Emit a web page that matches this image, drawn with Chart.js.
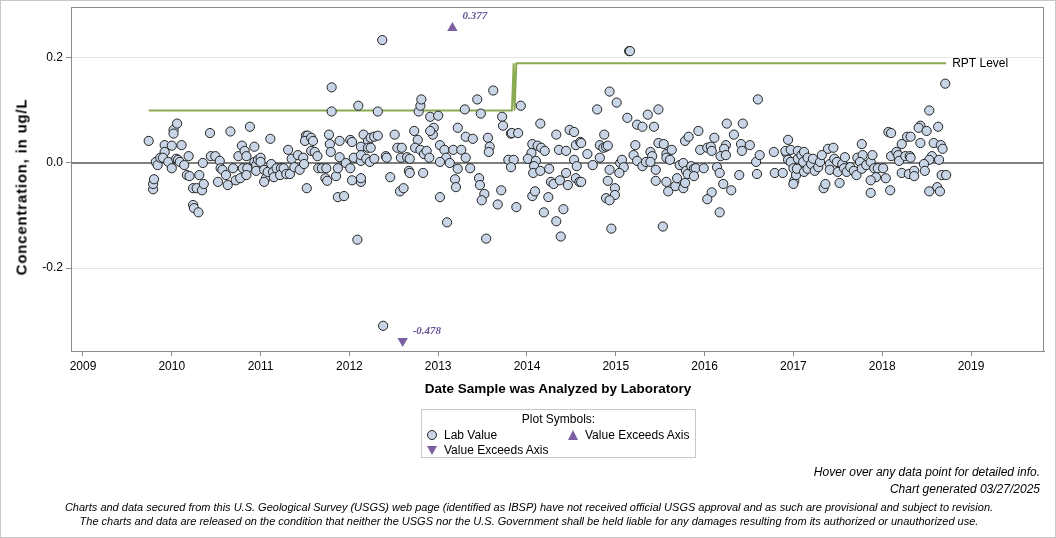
<!DOCTYPE html>
<html>
<head>
<meta charset="utf-8">
<script src="https://cdn.jsdelivr.net/npm/chart.js@4.4.1/dist/chart.umd.min.js"></script>
<style>
  body { margin: 0; background: #fff; font-family: "Liberation Sans", Arial, sans-serif; color: #000; }
  #wrap { position: relative; width: 1054px; height: 536px; border: 1px solid #c8c8c8; overflow: hidden; }
  #chart { position: absolute; left: 0; top: 0; }
  .ytitle { position: absolute; left: 20px; top: 186px; transform: translate(-50%, -50%) rotate(-90deg);
    font-weight: bold; font-size: 15px; letter-spacing: 0.8px; white-space: nowrap; }
  .xtitle { position: absolute; left: 557px; top: 387px; transform: translate(-50%, -50%);
    font-weight: bold; font-size: 13.5px; white-space: nowrap; }
  .legend { position: absolute; left: 420px; top: 408px; width: 275px; height: 49px; border: 1px solid #c8c8c8;
    font-size: 12px; box-sizing: border-box; }
  .legend .ttl { position: absolute; left: 0; right: 0; top: 2px; text-align: center; }
  .legend .item { position: absolute; white-space: nowrap; display: flex; align-items: center; }
  .legend svg { margin-right: 6px; }
  .note { position: absolute; right: 15px; font-style: italic; font-size: 12px; white-space: nowrap; }
  .disc { position: absolute; left: 0; width: 1056px; text-align: center; font-style: italic; font-size: 11px; white-space: nowrap; }
</style>
</head>
<body>
<div id="wrap">
  <canvas id="chart" width="1056" height="538"></canvas>
  <div class="ytitle">Concentration, in ug/L</div>
  <div class="xtitle">Date Sample was Analyzed by Laboratory</div>
  <div class="legend">
    <div class="ttl">Plot Symbols:</div>
    <div class="item" style="left:4px; top:18px;">
      <svg width="12" height="12"><circle cx="6" cy="6" r="4.5" fill="#c8d5e6" stroke="#222" stroke-width="1"/></svg>Lab Value</div>
    <div class="item" style="left:145px; top:18px;">
      <svg width="12" height="12"><polygon points="6,1 11,11 1,11" fill="#7b5fa3"/></svg>Value Exceeds Axis</div>
    <div class="item" style="left:4px; top:33px;">
      <svg width="12" height="12"><polygon points="1,2 11,2 6,11" fill="#7b5fa3"/></svg>Value Exceeds Axis</div>
  </div>
  <div class="note" style="top:464px;">Hover over any data point for detailed info.</div>
  <div class="note" style="top:481px;">Chart generated 03/27/2025</div>
  <div class="disc" style="top:500px;">Charts and data secured from this U.S. Geological Survey (USGS) web page (identified as IBSP) have not received official USGS approval and as such are provisional and subject to revision.</div>
  <div class="disc" style="top:514px;">The charts and data are released on the condition that neither the USGS nor the U.S. Government shall be held liable for any damages resulting from its authorized or unauthorized use.</div>
</div>
<script>
// sample dates as decimal years, lab values in ug/L
const sampleDates = [
  2009.74, 2009.79, 2009.79, 2009.80, 2009.82, 2009.84, 2009.87, 2009.92, 2009.92, 2009.90,
  2009.96, 2010.00, 2010.02, 2010.02, 2010.06, 2010.00, 2010.05, 2010.07, 2010.09, 2010.14,
  2010.11, 2010.19, 2010.17, 2010.20, 2010.31, 2010.24, 2010.28, 2010.34, 2010.36, 2010.24,
  2010.25, 2010.30, 2010.35, 2010.43, 2010.44, 2010.49, 2010.54, 2010.55, 2010.57, 2010.61,
  2010.52, 2010.63, 2010.66, 2010.69, 2010.72, 2010.77, 2010.75, 2010.79, 2010.82, 2010.84,
  2010.80, 2010.85, 2010.84, 2010.88,
  2010.93, 2010.93, 2010.95, 2010.95, 2010.97, 2011.00, 2011.00, 2011.04, 2011.06, 2011.04,
  2011.08, 2011.12, 2011.11, 2011.14, 2011.15, 2011.18, 2011.23, 2011.22, 2011.26, 2011.29,
  2011.33, 2011.31, 2011.35, 2011.38, 2011.42, 2011.44, 2011.48, 2011.49, 2011.51, 2011.53,
  2011.50, 2011.57, 2011.59, 2011.57, 2011.61, 2011.64, 2011.52, 2011.65, 2011.69, 2011.74,
  2011.73, 2011.75, 2011.77, 2011.78, 2011.79, 2011.80, 2011.80, 2011.85, 2011.87, 2011.87,
  2011.94, 2011.89, 2011.89, 2011.96, 2012.01, 2012.01, 2012.03, 2012.05, 2012.03, 2012.10,
  2012.09, 2012.13, 2012.13, 2012.13,
  2012.37, 2012.32, 2012.16, 2012.21, 2012.24, 2012.21, 2012.24, 2012.28, 2012.32, 2012.13,
  2012.19, 2012.23, 2012.28, 2012.13, 2012.41, 2012.42, 2012.46, 2012.51, 2012.54, 2012.59,
  2012.57, 2012.61, 2012.58, 2012.65, 2012.68, 2012.67, 2012.68, 2012.73, 2012.77, 2012.74,
  2012.80, 2012.83, 2012.84, 2012.87, 2012.90, 2012.78, 2012.80, 2012.81, 2012.91, 2013.00,
  2012.95, 2012.94, 2012.91, 2013.02, 2013.07, 2013.09, 2013.02, 2013.13, 2013.17, 2013.26,
  2013.22, 2013.02, 2013.19, 2013.20, 2013.10, 2013.22, 2013.30, 2013.31, 2013.31, 2013.36,
  2012.38,
  2013.62, 2013.44, 2013.48, 2013.39, 2013.56, 2013.58, 2013.57, 2013.46, 2013.47, 2013.52,
  2013.49, 2013.54, 2013.67, 2013.71, 2013.72, 2013.73, 2013.79, 2013.85, 2013.82, 2013.82,
  2013.83, 2013.90, 2013.88, 2013.93, 2014.06, 2014.05, 2014.01, 2014.10, 2014.08, 2014.07,
  2014.15, 2014.12, 2014.16, 2014.20, 2014.15, 2014.06, 2014.09, 2014.25, 2014.24, 2014.19,
  2014.27, 2014.30, 2014.37, 2014.44, 2014.46, 2014.33, 2014.33, 2014.38, 2014.41, 2014.36,
  2014.44, 2014.48, 2014.53, 2014.55, 2014.60, 2014.53, 2014.56, 2014.55, 2014.59,
  2015.15, 2015.16, 2014.93, 2014.79, 2015.01, 2015.13, 2015.24, 2015.30, 2015.36, 2015.48,
  2015.43, 2014.61, 2014.68, 2014.74, 2014.82, 2014.86, 2014.87, 2014.89, 2014.91, 2014.82,
  2014.93, 2014.91, 2014.99, 2014.99, 2014.89, 2014.93, 2014.95, 2015.05, 2015.07, 2015.09,
  2015.04, 2015.22, 2015.20, 2015.24, 2015.30, 2015.34, 2015.39, 2015.41, 2015.39, 2015.45,
  2015.45, 2015.48, 2015.54, 2015.57, 2015.57, 2015.63, 2015.61, 2015.53, 2015.57, 2015.59,
  2015.67, 2015.69, 2015.76, 2015.78, 2015.72, 2015.76, 2015.79, 2015.81, 2015.78, 2015.82,
  2014.61,
  2015.93, 2015.85, 2015.88, 2015.90, 2015.88, 2015.95, 2015.99, 2016.03, 2016.07, 2016.08,
  2016.11, 2016.14, 2016.17, 2016.21, 2016.08, 2016.03, 2016.17, 2016.30, 2016.25, 2016.33,
  2016.24, 2016.22, 2016.18, 2016.24, 2016.43, 2016.41, 2016.42, 2016.51, 2016.39, 2016.60,
  2016.58, 2016.62, 2016.59, 2016.78, 2016.79, 2016.88, 2016.94, 2016.92, 2016.91, 2016.97,
  2016.94, 2016.97, 2017.00, 2017.01, 2017.00, 2017.03, 2017.04, 2017.05, 2017.05,
  2017.09, 2017.11, 2017.12, 2017.12, 2017.16, 2017.16, 2017.20, 2017.22, 2017.24, 2017.28,
  2017.30, 2017.32, 2017.34, 2017.36, 2017.39, 2017.45, 2017.41, 2017.41, 2017.46, 2017.49,
  2017.50, 2017.52, 2017.55, 2017.58, 2017.57, 2017.60, 2017.64, 2017.68, 2017.71, 2017.72,
  2017.77, 2017.78, 2017.75, 2017.77, 2017.82, 2017.87, 2017.89, 2017.91, 2017.93, 2017.87,
  2017.87, 2017.95, 2018.01, 2018.04, 2018.09, 2018.07, 2018.10, 2018.10, 2018.16, 2018.18,
  2018.19, 2018.22, 2018.28, 2018.26, 2018.31, 2018.22, 2018.30,
  2018.71, 2018.53, 2018.43, 2018.41, 2018.50, 2018.63, 2018.32, 2018.43, 2018.58, 2018.66,
  2018.68, 2018.32, 2018.56, 2018.53, 2018.64, 2018.47, 2018.36, 2018.36, 2018.48, 2018.67,
  2018.72, 2018.53, 2018.62, 2018.65
];
const labValues = [
  0.042, -0.050, -0.040, -0.031, 0.002, -0.004, 0.010, 0.034, 0.021, 0.010,
  0.002, 0.033, 0.063, 0.056, 0.075, -0.010, 0.008, 0.006, 0.002, -0.004,
  0.034, 0.013, -0.023, -0.025, -0.023, -0.048, -0.048, -0.052, -0.040, -0.080,
  -0.086, -0.094, 0.000, 0.057, 0.013, 0.013, 0.004, -0.010, -0.013, -0.023,
  -0.036, -0.042, 0.060, -0.010, -0.033, -0.029, 0.013, 0.033, 0.023, 0.013,
  -0.010, -0.010, -0.023, 0.069,
  0.031, 0.002, -0.004, -0.015, 0.006, 0.010, 0.002, -0.013, -0.029, -0.036,
  -0.017, -0.002, 0.046, -0.017, -0.027, -0.010, -0.010, -0.023, -0.010, -0.021,
  -0.021, 0.025, 0.008, -0.008, 0.015, -0.013, 0.010, -0.002, 0.052, 0.052,
  0.042, 0.048, 0.042, 0.023, 0.021, 0.013, -0.048, -0.010, -0.010, -0.010,
  -0.029, -0.034, 0.054, 0.036, 0.021, 0.144, 0.098, -0.025, -0.010, -0.065,
  -0.063, 0.042, 0.011, 0.000, -0.010, 0.044, 0.040, 0.010, -0.033, 0.109,
  -0.146, 0.031, 0.004, -0.036,
  0.234, 0.098, 0.054, 0.042, 0.048, 0.029, 0.029, 0.050, 0.052, 0.015,
  0.008, 0.002, 0.008, -0.029, 0.013, 0.010, -0.027, 0.054, 0.029, 0.029,
  -0.054, -0.048, 0.010, 0.011, 0.008, -0.015, -0.019, 0.061, 0.044, 0.029,
  0.025, -0.019, 0.017, 0.023, 0.010, 0.098, 0.109, 0.121, 0.088, 0.090,
  0.067, 0.054, 0.061, 0.034, 0.025, 0.010, 0.002, 0.000, 0.025, 0.025,
  -0.011, -0.065, -0.031, -0.046, -0.113, 0.067, 0.102, 0.050, 0.010, -0.010,
  -0.310,
  0.138, 0.121, 0.094, 0.046, 0.048, 0.031, 0.021, -0.029, -0.042, -0.059,
  -0.071, -0.144, -0.079, -0.052, 0.088, 0.071, 0.006, 0.006, -0.008, 0.056,
  0.057, 0.057, -0.084, 0.109, 0.036, 0.019, 0.008, 0.004, -0.006, -0.019,
  -0.015, 0.033, 0.029, 0.023, 0.075, -0.063, -0.054, -0.011, -0.065, -0.094,
  -0.036, -0.040, -0.033, -0.019, -0.042, 0.054, -0.111, -0.140, -0.088, 0.025,
  0.023, 0.063, 0.059, 0.034, 0.040, 0.006, -0.006, -0.029, -0.036,
  0.213, 0.213, 0.136, 0.102, 0.115, 0.086, 0.073, 0.069, 0.092, 0.102,
  0.069, 0.038, 0.017, -0.004, 0.034, 0.029, 0.054, 0.031, 0.033, 0.010,
  -0.013, -0.034, -0.048, -0.061, -0.067, -0.071, -0.125, 0.000, 0.006, -0.008,
  -0.019, 0.034, 0.015, 0.004, -0.006, 0.002, 0.021, 0.013, 0.002, -0.013,
  -0.034, 0.038, 0.036, 0.017, 0.010, 0.025, 0.006, -0.121, -0.036, -0.054,
  -0.044, -0.029, -0.048, -0.038, -0.004, 0.000, -0.015, -0.021, 0.042, 0.050,
  -0.036,
  0.061, -0.006, -0.011, -0.010, -0.025, 0.025, -0.010, 0.029, 0.031, 0.023,
  0.048, -0.008, -0.019, -0.040, -0.056, -0.069, -0.094, -0.052, 0.075, 0.054,
  0.034, 0.027, 0.013, 0.015, 0.075, 0.036, 0.023, 0.034, -0.023, 0.121,
  0.002, 0.015, -0.021, 0.021, -0.019, -0.019, 0.044, 0.019, 0.023, 0.025,
  0.006, 0.002, -0.010, -0.034, -0.040, -0.023, -0.011, 0.008, 0.023,
  0.015, 0.002, 0.021, -0.017, -0.011, 0.010, -0.002, 0.008, -0.015, -0.008,
  0.002, 0.015, -0.048, -0.040, 0.027, 0.029, -0.002, -0.013, 0.008, 0.002,
  -0.017, -0.038, -0.002, 0.011, -0.010, -0.017, -0.008, -0.015, -0.023, 0.010,
  0.036, 0.015, 0.002, -0.011, -0.004, 0.002, 0.015, -0.010, -0.027, -0.033,
  -0.057, -0.010, -0.010, -0.029, -0.052, 0.059, 0.057, 0.013, 0.021, 0.015,
  0.004, 0.036, 0.050, 0.013, 0.013, -0.019, -0.021,
  0.151, 0.100, 0.071, 0.067, 0.061, 0.069, 0.050, 0.038, 0.038, 0.034,
  0.027, 0.010, 0.013, 0.006, 0.006, -0.002, -0.015, -0.025, -0.015, -0.023,
  -0.023, -0.054, -0.046, -0.054
];

// values beyond the axis range
const highDates = [2013.16];
const highValues = [0.377];
const lowDates = [2012.60];
const lowValues = [-0.478];

// reporting level step line
const rptDates = [2009.74, 2013.83, 2013.85, 2013.86, 2013.88, 2018.72];
const rptLevels = [0.10, 0.10, 0.19, 0.10, 0.19, 0.19];

const xTickValues = [2009, 2010, 2011, 2012, 2013, 2014, 2015, 2016, 2017, 2018, 2019];
const yTickValues = [-0.2, 0.0, 0.2];
const xMin = 2008.865, xMax = 2019.822;
const yMin = -0.358, yMax = 0.297;
const exceedTop = 0.257, exceedBottom = -0.339;

const purple = "#7b5fa3";

const decorPlugin = {
  id: "decor",
  beforeDatasetsDraw(chart) {
    const { ctx, chartArea: a, scales: { y } } = chart;
    const y0 = Math.round(y.getPixelForValue(0));
    ctx.save();
    ctx.strokeStyle = "#808080";
    ctx.lineWidth = 2;
    ctx.beginPath();
    ctx.moveTo(a.left, y0);
    ctx.lineTo(a.right, y0);
    ctx.stroke();
    ctx.restore();
  },
  afterDatasetsDraw(chart) {
    const { ctx, scales: { x, y } } = chart;
    ctx.save();
    ctx.fillStyle = "#6a559a";
    ctx.font = "italic bold 11px 'Liberation Serif', serif";
    ctx.textBaseline = "middle";
    highDates.forEach((d, i) => {
      ctx.fillText(highValues[i].toFixed(3), x.getPixelForValue(d) + 10, y.getPixelForValue(exceedTop) - 12);
    });
    lowDates.forEach((d, i) => {
      ctx.fillText(lowValues[i].toFixed(3), x.getPixelForValue(d) + 10, y.getPixelForValue(exceedBottom) - 10);
    });
    const last = rptDates.length - 1;
    ctx.fillStyle = "#000";
    ctx.font = "12px 'Liberation Sans', Arial, sans-serif";
    ctx.fillText("RPT Level", x.getPixelForValue(rptDates[last]) + 6, y.getPixelForValue(rptLevels[last]));
    ctx.restore();
  },
  afterDraw(chart) {
    const { ctx, chartArea: a } = chart;
    ctx.save();
    ctx.strokeStyle = "#8c8c8c";
    ctx.lineWidth = 1;
    ctx.strokeRect(a.left + 0.5, a.top + 0.5, a.right - a.left - 1, a.bottom - a.top);
    ctx.restore();
  }
};

new Chart(document.getElementById("chart"), {
  type: "scatter",
  data: {
    datasets: [
      {
        type: "line",
        data: rptDates.map((d, i) => ({ x: d, y: rptLevels[i] })),
        borderColor: "#8aaa52",
        borderWidth: 2,
        pointRadius: 0,
        fill: false,
        order: 3
      },
      {
        data: sampleDates.map((d, i) => ({ x: d, y: labValues[i] })),
        backgroundColor: "#c8d5e6",
        borderColor: "#222",
        borderWidth: 1,
        pointRadius: 4.6,
        order: 1
      },
      {
        data: highDates.map((d, i) => ({ x: d, y: Math.min(highValues[i], exceedTop) })),
        pointStyle: "triangle",
        backgroundColor: purple,
        borderColor: purple,
        borderWidth: 0,
        pointRadius: 6,
        order: 2
      },
      {
        data: lowDates.map((d, i) => ({ x: d, y: Math.max(lowValues[i], exceedBottom) })),
        pointStyle: "triangle",
        rotation: 180,
        backgroundColor: purple,
        borderColor: purple,
        borderWidth: 0,
        pointRadius: 6,
        order: 2
      }
    ]
  },
  options: {
    responsive: false,
    animation: false,
    layout: { padding: { left: 0, right: 13, top: 0, bottom: 0 } },
    plugins: { legend: { display: false }, tooltip: { enabled: false } },
    scales: {
      x: {
        type: "linear",
        min: xMin,
        max: xMax,
        afterBuildTicks: axis => { axis.ticks = xTickValues.map(v => ({ value: v })); },
        afterFit: axis => { axis.height = 188; axis.paddingLeft = 0; axis.paddingRight = 0; },
        grid: { drawOnChartArea: false, tickLength: 5, color: "#8c8c8c" },
        border: { color: "#8c8c8c" },
        ticks: { color: "#000", font: { family: "'Liberation Sans', Arial", size: 12 }, padding: 3, maxRotation: 0,
          callback: v => String(v) }
      },
      y: {
        min: yMin,
        max: yMax,
        afterBuildTicks: axis => { axis.ticks = yTickValues.map(v => ({ value: v })); },
        afterFit: axis => { axis.width = 70; axis.paddingTop = 0; axis.paddingBottom = 0; },
        grid: { color: "#e6e6e6", tickColor: "#8c8c8c", tickLength: 5 },
        border: { color: "#8c8c8c" },
        ticks: { color: "#000", font: { family: "'Liberation Sans', Arial", size: 12 }, padding: 3,
          callback: v => v.toFixed(1) }
      }
    }
  },
  plugins: [decorPlugin]
});
</script>
</body>
</html>
